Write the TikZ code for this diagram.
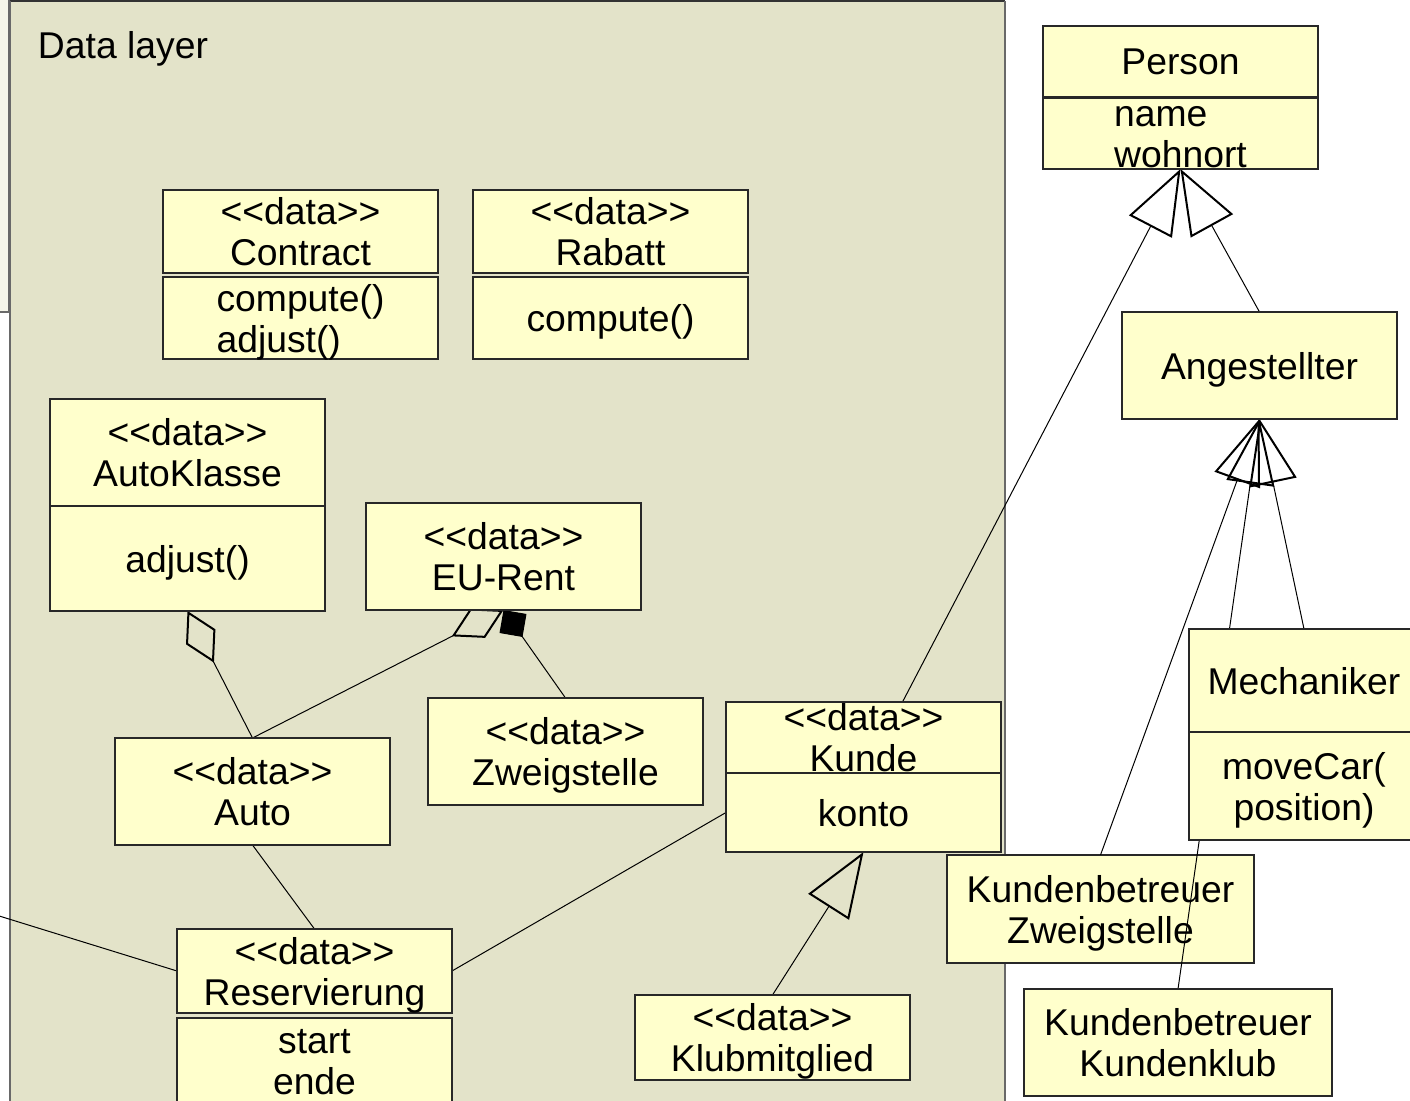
\documentclass[tikz,border=0pt]{standalone}
\usepackage{fontspec}
\newfontfamily\umlfont{Liberation Sans}
\usetikzlibrary{arrows.meta,fit}
\definecolor{panelfill}{RGB}{227,227,201}
\definecolor{stripfill}{RGB}{246,246,234}
\definecolor{classfill}{RGB}{255,255,204}
\definecolor{classline}{RGB}{40,40,40}
\definecolor{frameline}{RGB}{105,105,105}
\pgfdeclarelayer{panel}
\pgfdeclarelayer{under}
\pgfdeclarelayer{wires}
\pgfsetlayers{panel,under,wires,main}
\begin{document}
\begin{tikzpicture}[x=0.5pt,y=-0.5pt,
  every node/.style={font=\umlfont\fontsize{18.65pt}{20.5pt}\selectfont,inner sep=0pt,outer sep=0pt},
  % a rectangle node given by its two corners (left, top, right, bottom)
  rectspan/.style n args={4}{at={({(#1+#3)/2},{(#2+#4)/2})},
    minimum width={(#3-#1)*0.5pt},minimum height={(#4-#2)*0.5pt}},
  cls/.style={draw=classline,line width=0.75pt,fill=classfill,align=center,text depth=0pt},
  members/.style={cls,align=left},
  hull/.style={inner sep=0pt,outer sep=0pt},
  wire/.style={draw=black,line width=0.5pt},
  aggr/.style={wire,-{Diamond[open,length=29pt,width=16.5pt,line width=1pt]}},
  compo/.style={wire,-{Diamond[length=16.5pt,width=16.5pt,line width=0.5pt]}},
  gen/.style={wire,-{Triangle[open,length=32.5pt,width=24pt,line width=1pt]}}
]
\useasboundingbox (0,0) rectangle (1410,1101);

\begin{pgfonlayer}{panel}
  % narrow package peeking out on the left
  \fill[stripfill] (-2,-2) rectangle (9,312);
  \draw[frameline,line width=0.75pt] (-2,312) -- (9,312) -- (9,-2);
  % data layer package
  \fill[panelfill] (10,1) rectangle (1005,1110);
  \draw[black!80,line width=0.6pt] (10,1) -- (1005,1);
  \draw[frameline,line width=1pt] (10,1110) -- (10,1);
  \draw[frameline,line width=1.4pt] (1005,1) -- (1005,1110);
\end{pgfonlayer}

\node[anchor=base west] (title) at (38,59) {Data layer};

% data classes
\node[cls,rectspan={163}{190}{438}{273}] (contractA) {<<data>>\\Contract};
\node[members,rectspan={163}{277}{438}{359}] (contractB) {compute()\\adjust()};
\node[cls,rectspan={473}{190}{748}{273}] (rabattA) {<<data>>\\Rabatt};
\node[cls,rectspan={473}{277}{748}{359}] (rabattB) {compute()};
\node[cls,rectspan={50}{399}{325}{506}] (autoklasseA) {<<data>>\\AutoKlasse};
\node[cls,rectspan={50}{506}{325}{611}] (autoklasseB) {adjust()};
\node[cls,rectspan={366}{503}{641}{610}] (eurent) {<<data>>\\EU-Rent};
\node[cls,rectspan={428}{698}{703}{805}] (zweigstelle) {<<data>>\\Zweigstelle};
\node[cls,rectspan={115}{738}{390}{845}] (auto) {<<data>>\\Auto};
\node[cls,rectspan={726}{702}{1001}{773}] (kundeA) {<<data>>\\Kunde};
\node[cls,rectspan={726}{773}{1001}{852}] (kundeB) {konto};
\node[hull,fit=(kundeA)(kundeB)] (kunde) {};
\node[cls,rectspan={177}{929}{452}{1013}] (resA) {<<data>>\\Reservierung};
\node[cls,rectspan={177}{1018}{452}{1120}] (resB) {};
\node[align=center] (resBtext) at (314.5,1062) {start\\ende};
\node[cls,rectspan={635}{995}{910}{1080}] (klub) {<<data>>\\Klubmitglied};

% people classes
\node[cls,rectspan={1043}{26}{1318}{97}] (personA) {Person};
\node[members,rectspan={1043}{98}{1318}{169},text height=34pt] (personB) {name\\wohnort};
\node[cls,rectspan={1122}{312}{1397}{419}] (angest) {Angestellter};
\node[cls,rectspan={1189}{629}{1419}{732}] (mechA) {Mechaniker};
\node[cls,rectspan={1189}{732}{1419}{840}] (mechB) {moveCar(\\position)};
\begin{pgfonlayer}{under}
\node[cls,rectspan={947}{855}{1254}{963}] (kz) {Kundenbetreuer\\Zweigstelle};
\end{pgfonlayer}
\node[cls,rectspan={1024}{989}{1332}{1096}] (kk) {Kundenbetreuer\\Kundenklub};

\coordinate (offleft) at (-4,915);

\begin{pgfonlayer}{wires}
  \draw[aggr] (auto.north) -- (autoklasseB.south);
  \draw[aggr] (auto.north) -- (eurent.south);
  \draw[compo] (zweigstelle.north) -- (eurent.south);
  \draw[wire] (auto.south) -- (resA.north);
  \draw[wire] (resA.east) -- (kundeB.west);
  \draw[wire] (resA.west) -- (offleft);
  \draw[gen] (klub.north) -- (kundeB.south);
  \draw[gen] (kunde) -- (personB.south);
  \draw[gen] (angest.north) -- (personB.south);
  \draw[gen] (kz.north) -- (angest.south);
  \draw[gen] (mechA.north) -- (angest.south);
  \draw[gen] (kk.north) -- (angest.south);
\end{pgfonlayer}
\end{tikzpicture}
\end{document}
